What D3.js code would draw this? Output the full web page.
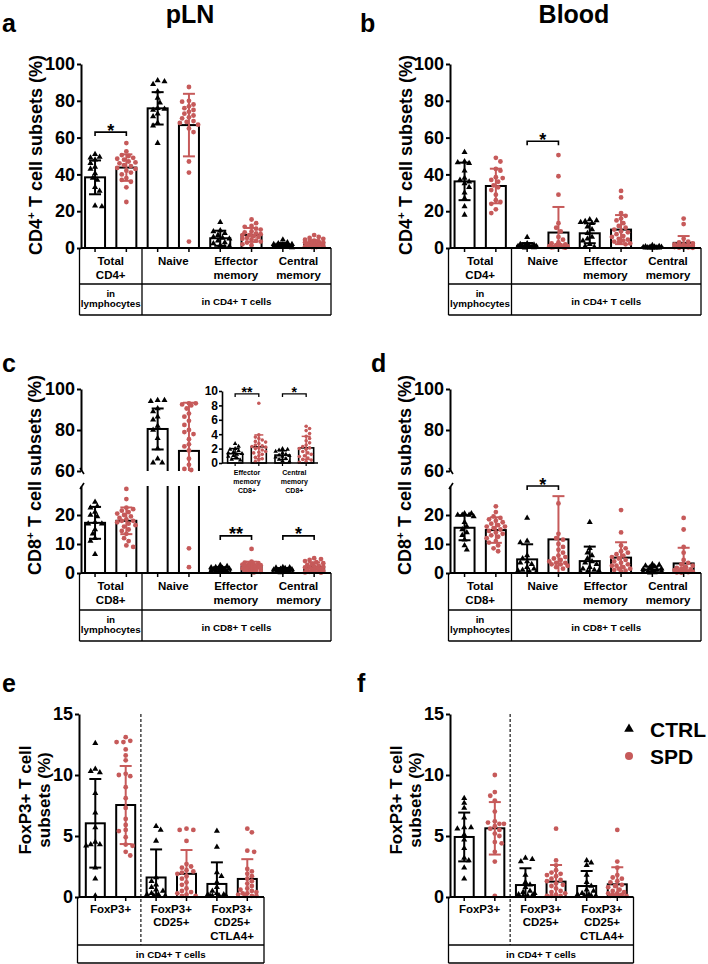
<!DOCTYPE html>
<html><head><meta charset="utf-8">
<script src="https://cdn.jsdelivr.net/npm/d3@7/dist/d3.min.js"></script>
<style>body{margin:0;background:#fff}svg{display:block}</style>
</head><body>
<svg id="fig" width="708" height="964"></svg>
<script>
// ---------------- DATA ----------------
const groups = ["CTRL", "SPD"];
const cd4Cats = [["Total", "CD4+"], ["Naive"], ["Effector", "memory"], ["Central", "memory"]];
const cd8Cats = [["Total", "CD8+"], ["Naive"], ["Effector", "memory"], ["Central", "memory"]];
const tregCats = [["FoxP3+"], ["FoxP3+", "CD25+"], ["FoxP3+", "CD25+", "CTLA4+"]];
const insetCats = [["Effector", "memory", "CD8+"], ["Central", "memory", "CD8+"]];
const ticks100 = [0, 20, 40, 60, 80, 100];
const ticksLow = [0, 10, 20];
const ticksHigh = [60, 80, 100];
const ticks15 = [0, 5, 10, 15];
const ticksInset = [0, 2, 4, 6, 8, 10];

// panel a: pLN CD4
const pLN_CD4_ctrl = [
  [51, 49.5, 49, 48, 46, 44, 43, 40.5, 38, 37, 33, 31, 23, 22.5],
  [91, 90.5, 89, 85, 81.5, 79, 76, 75.5, 75, 73, 71.5, 68, 66.5, 57],
  [14, 9.5, 9, 8, 7, 6, 5.5, 5, 4, 3, 2.5, 1.5, 1, 0.5],
  [4.5, 3, 2.5, 2, 2, 1.8, 1.5, 1.2, 1, 1, 0.8, 0.5, 0.5, 0.3]];
const pLN_CD4_spd = [
  [57, 52.5, 50.5, 50, 49, 48.5, 48, 47, 46.5, 46, 45, 44.5, 43.5, 43, 42, 41, 40, 38, 37, 36, 33, 25],
  [87.5, 80, 79.5, 78, 77, 76, 75, 74, 73, 72, 71, 70.5, 69, 68.5, 68, 67, 65, 63, 47, 41, 3.5],
  [15.5, 13.5, 12, 11.5, 10.5, 10, 9, 8.5, 8, 7.5, 7, 7, 6.5, 6, 5.5, 5, 4.5, 4, 3.5, 3, 2, 1.5],
  [7, 6, 5.5, 5, 4.5, 4, 3.5, 3.5, 3, 3, 2.5, 2.5, 2, 2, 1.5, 1.5, 1, 1, 0.8, 0.5, 0.5]];
const pLN_CD4_ctrlMean = [38.4, 75.9, 5.3, 1.6];
const pLN_CD4_ctrlSd = [9.2, 8.8, 4.1, 1.1];
const pLN_CD4_spdMean = [43.7, 66.8, 7.1, 2.6];
const pLN_CD4_spdSd = [7.2, 17.0, 3.8, 1.7];
const pLN_CD4_sig = [{cat: 0, v: 63, label: "*"}];

// panel b: Blood CD4
const blood_CD4_ctrl = [
  [52, 47, 46.5, 46, 42, 38, 37, 36, 35, 33, 30, 27, 22.5, 18],
  [5.8, 2.5, 2, 1.8, 1.5, 1.2, 1, 1, 0.8, 0.6, 0.5, 0.4, 0.3, 0.2],
  [15.5, 15, 14.5, 14, 13.5, 11.5, 10, 8, 6, 5, 4, 2, 1, 0.5],
  [1.5, 1, 0.8, 0.7, 0.6, 0.5, 0.4, 0.3, 0.3, 0.2, 0.2, 0.1, 0.1, 0.1]];
const blood_CD4_spd = [
  [49, 47, 43, 42, 38.5, 38, 37, 36, 34, 33, 31.5, 29, 26, 25, 24, 21, 19],
  [50.5, 39, 29, 13.5, 11, 9, 6, 4.5, 3, 2.5, 2, 1.5, 1.5, 1, 1, 0.8, 0.5, 0.5, 0.3, 0.2],
  [31, 27.5, 19, 17.5, 16, 15, 13.5, 12, 11, 10, 9, 8.5, 7.5, 6.5, 6, 5, 4.5, 4, 3.5, 3, 2.5, 2],
  [16, 13, 5, 3.5, 3, 2.5, 2, 2, 1.5, 1.5, 1.2, 1, 1, 0.8, 0.6, 0.5, 0.4, 0.3, 0.2, 0.1]];
const blood_CD4_ctrlMean = [36.2, 1.2, 8.0, 0.4];
const blood_CD4_ctrlSd = [10.2, 1.5, 5.4, 0.4];
const blood_CD4_spdMean = [33.7, 8.4, 10.0, 2.8];
const blood_CD4_spdSd = [9.4, 13.9, 7.9, 3.7];
const blood_CD4_sig = [{cat: 1, v: 58, label: "*"}];

// panel c: pLN CD8
const pLN_CD8_ctrl = [
  [24.5, 23, 22.5, 21, 20, 19.5, 17.5, 17, 17, 15, 13.5, 12, 11, 6.5],
  [94.5, 94.5, 94, 90.5, 89, 86.5, 85, 82, 80, 76, 71, 66, 64, 64],
  [2.7, 2.3, 2, 1.9, 1.7, 1.5, 1.4, 1.3, 1.2, 1, 0.9, 0.7, 0.5, 0.4],
  [2, 1.9, 1.8, 1.6, 1.4, 1.2, 1.1, 1, 0.9, 0.8, 0.6, 0.5, 0.3, 0.2]];
const pLN_CD8_spd = [
  [29, 25.5, 22.5, 22, 21.5, 21, 20.5, 20, 19.5, 19, 18.5, 18, 18, 17.5, 17, 16.5, 16, 15, 14.5, 13.5, 12, 11, 9.5, 9],
  [93, 93, 92.5, 92, 90.5, 88, 86.5, 84.5, 82.5, 80, 79, 78, 75.5, 73, 72, 70, 66, 63, 61, 60.5, 8.5, 2],
  [8.3, 3.9, 3.6, 3.4, 3.2, 3, 2.9, 2.7, 2.5, 2.4, 2.3, 2.2, 2.1, 2, 1.8, 1.6, 1.5, 1.4, 1.2, 1, 0.8, 0.6, 0.4, 0.2],
  [5.1, 4.8, 4.5, 4.1, 3.7, 3.4, 3.1, 2.8, 2.5, 2.3, 2.1, 2, 1.9, 1.6, 1.4, 1.2, 1, 0.9, 0.7, 0.5, 0.4, 0.2, 0.1]];
const pLN_CD8_ctrlMean = [17.3, 80.5, 1.3, 1.1];
const pLN_CD8_ctrlSd = [5.5, 10.0, 0.7, 0.6];
const pLN_CD8_spdMean = [18.0, 69.8, 2.25, 2.1];
const pLN_CD8_spdSd = [4.6, 23.5, 1.65, 1.6];
const pLN_CD8_sig = [{cat: 2, v: 12.8, label: "**"}, {cat: 3, v: 12.8, label: "*"}];
const inset_sig = [{cat: 0, v: 9.6, label: "**"}, {cat: 1, v: 9.6, label: "*"}];

// panel d: Blood CD8
const blood_CD8_ctrl = [
  [20.5, 20.5, 20, 20, 20, 19.5, 17.5, 16, 15, 14, 13, 11.5, 9.5, 8],
  [19, 11, 10.5, 6, 5, 4, 3.5, 3, 2, 1.5, 1, 0.8, 0.5, 0.3],
  [17.5, 8.5, 7, 6, 5, 4, 3.5, 3, 2, 1.5, 1, 0.8, 0.5, 0.3],
  [3, 2.8, 2.5, 2.2, 2, 1.5, 1.3, 1, 0.8, 0.6, 0.5, 0.3, 0.2, 0.1]];
const blood_CD8_spd = [
  [23, 21, 19.5, 19, 18.5, 18, 17.5, 17, 16.5, 16, 16, 15.5, 15, 14.5, 14, 13.5, 13, 12.5, 12, 11, 10.5, 9.5, 8.5, 7.5],
  [24, 13.5, 12, 11.5, 10, 9, 8, 7, 6, 5.5, 5, 4.5, 4, 3.5, 3.5, 3, 3, 2.5, 2, 1.5],
  [21.7, 14, 9.5, 8.5, 7.5, 7, 6.5, 6, 5.5, 5, 4.5, 4, 3.5, 3, 2.5, 2.5, 2, 1.5, 1.5, 1, 0.8, 0.5],
  [19, 15, 9, 7, 4.5, 3.5, 3, 2.5, 2, 1.8, 1.5, 1.2, 1, 0.8, 0.6, 0.5, 0.4, 0.3, 0.2, 0.1]];
const blood_CD8_ctrlMean = [15.6, 4.7, 4.1, 1.2];
const blood_CD8_ctrlSd = [4.3, 5.2, 5.0, 1.0];
const blood_CD8_spdMean = [14.8, 11.6, 5.3, 3.3];
const blood_CD8_spdSd = [4.4, 14.9, 5.3, 5.4];
const blood_CD8_sig = [{cat: 1, v: 30, label: "*"}];

// panel e: pLN FoxP3
const pLN_Treg_ctrl = [
  [12.6, 10.5, 10.3, 10.2, 8.5, 6.9, 5.7, 4.5, 4.3, 4.2, 4.3, 2.4, 1.5, 0.1],
  [5.8, 5.5, 4.6, 1.6, 1.3, 1, 0.8, 0.6, 0.5, 0.3, 0.2, 0.2, 0.1, 0.1],
  [5.4, 4.1, 2, 1.7, 1.2, 0.8, 0.5, 0.3, 0.2, 0.2, 0.1, 0.1, 0.1, 0.1]];
const pLN_Treg_spd = [
  [13.1, 12.8, 12.7, 12.7, 12.1, 11.6, 11.2, 10.1, 10, 9.9, 9, 8.1, 7.3, 6.4, 5.9, 5.4, 5.5, 4.9, 4.2, 4.3, 3.7, 3.4],
  [5.6, 5.5, 5.5, 4.6, 2.7, 2.5, 2.4, 2.2, 2.1, 2, 1.9, 1.7, 1.5, 1.2, 1, 0.7, 0.5, 0.4, 0.3, 0.2, 0.1, 0.1],
  [5.6, 5.3, 3.8, 3.7, 2.3, 2.1, 1.9, 1.7, 1.5, 1.3, 1.1, 0.9, 0.7, 0.6, 0.5, 0.4, 0.3, 0.3, 0.2, 0.1, 0.1, 0.1]];
const pLN_Treg_ctrlMean = [6.04, 1.6, 1.07];
const pLN_Treg_ctrlSd = [3.63, 2.3, 1.77];
const pLN_Treg_spdMean = [7.54, 1.9, 1.48];
const pLN_Treg_spdSd = [3.2, 1.95, 1.62];

// panel f: Blood FoxP3
const blood_Treg_ctrl = [
  [8.1, 7.7, 7.3, 6.5, 5.7, 5.7, 5.6, 5.1, 4.7, 4, 3.2, 3, 2.4, 1.5],
  [3.2, 3.1, 2.9, 1.8, 1.2, 1, 0.8, 0.5, 0.4, 0.3, 0.2, 0.1, 0.1, 0.1],
  [3, 2.8, 2.6, 1.8, 1.2, 0.9, 0.6, 0.5, 0.3, 0.2, 0.2, 0.1, 0.1, 0.1]];
const blood_Treg_spd = [
  [10, 8.6, 8.3, 7.9, 7, 6.2, 6.1, 6, 6, 5.8, 5.6, 5.5, 5.2, 5, 4.5, 4.4, 3.7, 2.9, 0.1],
  [5.6, 3, 2.6, 2.2, 2, 1.9, 1.8, 1.7, 1.5, 1.4, 1.3, 1.1, 1, 0.9, 0.7, 0.5, 0.4, 0.3, 0.2, 0.1, 0.1, 0.1],
  [5.5, 2.9, 2.4, 1.8, 1.6, 1.5, 1.3, 1.2, 1, 0.9, 0.8, 0.6, 0.5, 0.4, 0.3, 0.3, 0.2, 0.2, 0.1, 0.1, 0.1, 0.1]];
const blood_Treg_ctrlMean = [4.92, 0.98, 0.9];
const blood_Treg_ctrlSd = [2.0, 1.37, 1.23];
const blood_Treg_spdMean = [5.63, 1.26, 1.04];
const blood_Treg_spdSd = [2.15, 1.36, 1.39];

// ---------------- DRAWING ----------------
const RED = "#c65a5a";
const FONT = '"Liberation Sans", Arial, Helvetica, sans-serif';
const svg = d3.select("#fig").attr("font-family", FONT);
let clipId = 0;

function txt(g, x, y, s, size, o = {}) {
  return g.append("text").attr("x", x).attr("y", y).text(s)
    .attr("font-size", size).attr("font-weight", o.weight || "bold")
    .attr("text-anchor", o.anchor || "middle").attr("fill", o.fill || "#000");
}

function swarm(ys, r, step, maxOff) {
  const order = d3.range(ys.length).sort((a, b) => ys[a] - ys[b]);
  const placed = [], off = [];
  order.forEach((i, n) => {
    const cands = [0];
    for (let k = 1; k * step <= maxOff + 1e-6; k++) {
      if (n % 2) cands.push(k * step, -k * step); else cands.push(-k * step, k * step);
    }
    let best = 0, bestD = -1;
    for (const c of cands) {
      let md = Infinity;
      for (const p of placed) { const d = Math.hypot(p[0] - c, p[1] - ys[i]); if (d < md) md = d; }
      if (md >= 2 * r) { best = c; break; }
      if (md > bestD) { bestD = md; best = c; }
    }
    off[i] = best; placed.push([best, ys[i]]);
  });
  return off;
}

function barChart(P) {
  const g = svg.append("g");
  const nC = P.ctrl.length;
  const xCat = d3.scaleBand().domain(d3.range(nC)).range([P.catStart, P.catEnd]);
  const xGrp = d3.scaleBand().domain(groups).range([0, xCat.bandwidth()]);
  const cx = (ci, gi) => xCat(ci) + xGrp(groups[gi]) + xGrp.bandwidth() / 2;
  const scales = P.segs.map(s => d3.scaleLinear().domain(s.dom).range(s.rng));
  const yAx = P.segs[0].rng[0];
  const series = [
    {pts: P.ctrl, mean: P.ctrlMean, sd: P.ctrlSd, color: "#000", tri: true},
    {pts: P.spd, mean: P.spdMean, sd: P.spdSd, color: RED, tri: false}];
  const clips = P.segs.map((s, si) => {
    const id = "clip" + (clipId++);
    const t = si === P.segs.length - 1 ? s.rng[1] - 40 : s.rng[1];
    const b = si === 0 ? s.rng[0] + 4 : s.rng[0];
    svg.append("clipPath").attr("id", id).append("rect")
      .attr("x", P.axisX - 40).attr("y", t).attr("width", P.xEnd - P.axisX + 60).attr("height", b - t);
    return id;
  });
  // bars
  P.segs.forEach((s, si) => {
    const y = scales[si];
    const cg = g.append("g").attr("clip-path", `url(#${clips[si]})`);
    series.forEach((ser, gi) => d3.range(nC).forEach(ci => {
      const m = ser.mean[ci];
      cg.append("rect").attr("x", cx(ci, gi) - P.barW / 2).attr("y", y(m))
        .attr("width", P.barW).attr("height", y(0) - y(m))
        .attr("fill", "#fff").attr("stroke", "#000").attr("stroke-width", P.axisW);
    }));
  });
  // points
  series.forEach((ser, gi) => d3.range(nC).forEach(ci => {
    const vals = ser.pts[ci];
    const segIdx = vals.map(v => {
      let k = P.segs.findIndex(s => v >= s.dom[0] && v <= s.dom[1]);
      if (k < 0) k = P.segs.length - 1;
      return k;
    });
    const ys = vals.map((v, i) => scales[segIdx[i]](v));
    const offs = swarm(ys, P.r, P.r * 0.95, P.maxOff);
    const x0 = cx(ci, gi);
    vals.forEach((v, i) => {
      if (ser.tri) {
        g.append("path").attr("d", d3.symbol(d3.symbolTriangle, P.tri)())
          .attr("transform", `translate(${x0 + offs[i]},${ys[i]})`).attr("fill", ser.color);
      } else {
        g.append("circle").attr("cx", x0 + offs[i]).attr("cy", ys[i]).attr("r", P.r).attr("fill", ser.color);
      }
    });
  }));
  // error bars
  P.segs.forEach((s, si) => {
    const y = scales[si];
    const cg = g.append("g").attr("clip-path", `url(#${clips[si]})`)
      .attr("stroke-width", P.errW).attr("fill", "none");
    series.forEach((ser, gi) => d3.range(nC).forEach(ci => {
      const m = ser.mean[ci], sd = ser.sd[ci], x0 = cx(ci, gi);
      const lo = Math.max(0, m - sd), hi = m + sd;
      cg.append("line").attr("x1", x0).attr("x2", x0).attr("y1", y(lo)).attr("y2", y(hi)).attr("stroke", ser.color);
      cg.append("line").attr("x1", x0 - P.cap / 2).attr("x2", x0 + P.cap / 2).attr("y1", y(hi)).attr("y2", y(hi)).attr("stroke", ser.color);
      if (m - sd > 0)
        cg.append("line").attr("x1", x0 - P.cap / 2).attr("x2", x0 + P.cap / 2).attr("y1", y(lo)).attr("y2", y(lo)).attr("stroke", ser.color);
    }));
  });
  // x axis + ticks
  g.append("line").attr("x1", P.axisX).attr("x2", P.xEnd).attr("y1", yAx).attr("y2", yAx)
    .attr("stroke", "#000").attr("stroke-width", P.axisW);
  d3.range(nC).forEach(ci => groups.forEach((gr, gi) => {
    g.append("line").attr("x1", cx(ci, gi)).attr("x2", cx(ci, gi)).attr("y1", yAx).attr("y2", yAx + P.xTick)
      .attr("stroke", "#000").attr("stroke-width", P.axisW * 0.75);
  }));
  // y axes
  P.segs.forEach((s, si) => {
    const ax = g.append("g").attr("transform", `translate(${P.axisX},0)`)
      .call(d3.axisLeft(scales[si]).tickValues(s.ticks).tickFormat(d3.format("d"))
        .tickSize(P.yTick).tickPadding(P.tickPad).tickSizeOuter(0));
    ax.attr("font-family", FONT);
    ax.select(".domain").attr("stroke-width", P.axisW);
    ax.selectAll(".tick line").attr("stroke-width", P.axisW);
    ax.selectAll(".tick text").attr("font-size", P.tickFont).attr("font-weight", "bold").attr("fill", "#000");
  });
  // break marks
  if (P.segs.length > 1) {
    const yb = P.segs[0].rng[1], yt = P.segs[1].rng[0];
    g.append("line").attr("x1", P.axisX - 1).attr("y1", yt - 3).attr("x2", P.axisX + 3).attr("y2", yt + 3)
      .attr("stroke", "#000").attr("stroke-width", 1.6);
    g.append("line").attr("x1", P.axisX - 1).attr("y1", yb + 3).attr("x2", P.axisX + 3).attr("y2", yb - 3)
      .attr("stroke", "#000").attr("stroke-width", 1.6);
  }
  // significance
  (P.sig || []).forEach(sg => {
    const y = scales[0](sg.v), xa = cx(sg.cat, 0), xb = cx(sg.cat, 1);
    g.append("path").attr("d", `M${xa},${y + P.sigTick}V${y}H${xb}V${y + P.sigTick}`)
      .attr("fill", "none").attr("stroke", "#000").attr("stroke-width", P.sigW);
    txt(g, (xa + xb) / 2, y + P.starDy, sg.label, P.starFont);
  });
  // category labels
  if (P.catLabel) {
    P.cats.forEach((lines, ci) => lines.forEach((ln, li) => {
      txt(g, xCat(ci) + xCat.bandwidth() / 2, yAx + P.catLabel.dy0 + li * P.catLabel.lh, ln, P.catLabel.size);
    }));
  }
  // table
  if (P.table) {
    const T = P.table, tx0 = P.axisX - 1.5, tx1 = P.xEnd;
    const st = (sel) => sel.attr("stroke", "#000").attr("stroke-width", 1.3);
    st(g.append("line").attr("x1", tx0).attr("x2", tx0).attr("y1", yAx).attr("y2", T.yBot));
    st(g.append("line").attr("x1", tx1).attr("x2", tx1).attr("y1", yAx).attr("y2", T.yBot));
    st(g.append("line").attr("x1", tx0).attr("x2", tx1).attr("y1", T.yRow).attr("y2", T.yRow));
    st(g.append("line").attr("x1", tx0).attr("x2", tx1).attr("y1", T.yBot).attr("y2", T.yBot));
    const xd = xCat(1);
    if (T.dashed) {
      g.append("line").attr("x1", xd).attr("x2", xd).attr("y1", scales[0].range()[1]).attr("y2", T.yRow)
        .attr("stroke", "#000").attr("stroke-width", 1.1).attr("stroke-dasharray", "3,2");
    } else {
      st(g.append("line").attr("x1", xd).attr("x2", xd).attr("y1", yAx).attr("y2", T.yBot));
    }
    T.row2.forEach(cell => {
      const xc = cell.span === "first" ? (tx0 + xd) / 2 : cell.span === "rest" ? (xd + tx1) / 2 : (tx0 + tx1) / 2;
      cell.lines.forEach((ln, li) => txt(g, xc, T.yRow + cell.dy0 + li * 10.5, ln, T.font2));
    });
  }
  return g;
}

function yLabel(x, y, main, sup, rest, size) {
  const t = svg.append("text").attr("transform", `translate(${x},${y}) rotate(-90)`)
    .attr("text-anchor", "middle").attr("font-size", size).attr("font-weight", "bold");
  t.append("tspan").text(main);
  if (sup) {
    t.append("tspan").text(sup).attr("font-size", size * 0.65).attr("dy", -size * 0.4);
    t.append("tspan").text(rest).attr("dy", size * 0.4);
  }
  return t;
}

const common = {axisW: 2, errW: 2, barW: 20, r: 2.4, tri: 16, cap: 12, maxOff: 9.5, xTick: 4, yTick: 4,
  tickPad: 2, tickFont: 18, sigTick: 4, sigW: 1.6, starDy: 4.5, starFont: 18,
  catLabel: {dy0: 17, lh: 14, size: 11.5}};

const segs100 = [{dom: [0, 100], rng: [248, 64], ticks: ticks100}];
const segsBroken = [{dom: [0, 30], rng: [573, 486], ticks: ticksLow}, {dom: [60, 100], rng: [471, 389], ticks: ticksHigh}];
const segs15 = [{dom: [0, 15], rng: [897, 714], ticks: ticks15}];

// a
barChart(Object.assign({}, common, {axisX: 81, catStart: 79.4, catEnd: 329.8, xEnd: 331, segs: segs100, cats: cd4Cats,
  ctrl: pLN_CD4_ctrl, spd: pLN_CD4_spd, ctrlMean: pLN_CD4_ctrlMean, ctrlSd: pLN_CD4_ctrlSd,
  spdMean: pLN_CD4_spdMean, spdSd: pLN_CD4_spdSd, sig: pLN_CD4_sig,
  table: {yRow: 284, yBot: 315, font2: 9.8, row2: [{span: "first", lines: ["in", "lymphocytes"], dy0: 12.5}, {span: "rest", lines: ["in CD4+ T cells"], dy0: 21}]}}));
// b
barChart(Object.assign({}, common, {axisX: 450, catStart: 448.9, catEnd: 699.3, xEnd: 701, segs: segs100, cats: cd4Cats,
  ctrl: blood_CD4_ctrl, spd: blood_CD4_spd, ctrlMean: blood_CD4_ctrlMean, ctrlSd: blood_CD4_ctrlSd,
  spdMean: blood_CD4_spdMean, spdSd: blood_CD4_spdSd, sig: blood_CD4_sig,
  table: {yRow: 284, yBot: 315, font2: 9.8, row2: [{span: "first", lines: ["in", "lymphocytes"], dy0: 12.5}, {span: "rest", lines: ["in CD4+ T cells"], dy0: 21}]}}));
// c
barChart(Object.assign({}, common, {axisX: 81, catStart: 79.4, catEnd: 329.8, xEnd: 331, segs: segsBroken, cats: cd8Cats,
  ctrl: pLN_CD8_ctrl, spd: pLN_CD8_spd, ctrlMean: pLN_CD8_ctrlMean, ctrlSd: pLN_CD8_ctrlSd,
  spdMean: pLN_CD8_spdMean, spdSd: pLN_CD8_spdSd, sig: pLN_CD8_sig,
  table: {yRow: 610, yBot: 641, font2: 9.8, row2: [{span: "first", lines: ["in", "lymphocytes"], dy0: 12.5}, {span: "rest", lines: ["in CD8+ T cells"], dy0: 21}]}}));
// c inset
barChart(Object.assign({}, common, {axisX: 222, catStart: 223.3, catEnd: 318, xEnd: 318,
  segs: [{dom: [0, 10], rng: [463, 391], ticks: ticksInset}], cats: insetCats,
  ctrl: pLN_CD8_ctrl.slice(2), spd: pLN_CD8_spd.slice(2), ctrlMean: pLN_CD8_ctrlMean.slice(2), ctrlSd: pLN_CD8_ctrlSd.slice(2),
  spdMean: pLN_CD8_spdMean.slice(2), spdSd: pLN_CD8_spdSd.slice(2), sig: inset_sig,
  axisW: 1.6, errW: 1.5, barW: 15, r: 1.8, tri: 9, cap: 9, maxOff: 7, xTick: 3, yTick: 3, tickPad: 1, tickFont: 12,
  sigTick: 3, sigW: 1.3, starDy: 3, starFont: 14, catLabel: {dy0: 11.5, lh: 9, size: 7}}));
// d
barChart(Object.assign({}, common, {axisX: 450, catStart: 448.9, catEnd: 699.3, xEnd: 701, segs: segsBroken, cats: cd8Cats,
  ctrl: blood_CD8_ctrl, spd: blood_CD8_spd, ctrlMean: blood_CD8_ctrlMean, ctrlSd: blood_CD8_ctrlSd,
  spdMean: blood_CD8_spdMean, spdSd: blood_CD8_spdSd, sig: blood_CD8_sig,
  table: {yRow: 610, yBot: 641, font2: 9.8, row2: [{span: "first", lines: ["in", "lymphocytes"], dy0: 12.5}, {span: "rest", lines: ["in CD8+ T cells"], dy0: 21}]}}));
// e
barChart(Object.assign({}, common, {axisX: 79, catStart: 80.1, catEnd: 262.5, xEnd: 264, segs: segs15, cats: tregCats,
  ctrl: pLN_Treg_ctrl, spd: pLN_Treg_spd, ctrlMean: pLN_Treg_ctrlMean, ctrlSd: pLN_Treg_ctrlSd,
  spdMean: pLN_Treg_spdMean, spdSd: pLN_Treg_spdSd, barW: 19, catLabel: {dy0: 15.5, lh: 13.7, size: 11.5},
  table: {yRow: 945, yBot: 963, dashed: true, font2: 9.8, row2: [{span: "all", lines: ["in CD4+ T cells"], dy0: 12.5}]}}));
// f
barChart(Object.assign({}, common, {axisX: 450, catStart: 448.9, catEnd: 632.6, xEnd: 633.5, segs: segs15, cats: tregCats,
  ctrl: blood_Treg_ctrl, spd: blood_Treg_spd, ctrlMean: blood_Treg_ctrlMean, ctrlSd: blood_Treg_ctrlSd,
  spdMean: blood_Treg_spdMean, spdSd: blood_Treg_spdSd, barW: 19, catLabel: {dy0: 15.5, lh: 13.7, size: 11.5},
  table: {yRow: 945, yBot: 963, dashed: true, font2: 9.8, row2: [{span: "all", lines: ["in CD4+ T cells"], dy0: 12.5}]}}));

// titles & panel letters
const hdr = svg.append("g");
txt(hdr, 190, 23, "pLN", 25);
txt(hdr, 574, 23, "Blood", 25);
[["a", 2, 32], ["b", 360, 32], ["c", 2, 372], ["d", 371, 372], ["e", 2, 692], ["f", 357, 692]]
  .forEach(([s, x, y]) => txt(hdr, x, y, s, 25, {anchor: "start"}));

// y labels
yLabel(42, 155, "CD4", "+", " T cell subsets (%)", 18);
yLabel(412, 155, "CD4", "+", " T cell subsets (%)", 18);
yLabel(41, 475, "CD8", "+", " T cell subsets (%)", 18);
yLabel(411, 475, "CD8", "+", " T cell subsets (%)", 18);
yLabel(31, 800, "FoxP3+ T cell", null, null, 17);
yLabel(50, 800, "subsets (%)", null, null, 17);
yLabel(402, 800, "FoxP3+ T cell", null, null, 17);
yLabel(421, 800, "subsets (%)", null, null, 17);

// legend
const lg = svg.append("g");
lg.append("path").attr("d", d3.symbol(d3.symbolTriangle, 40)()).attr("transform", "translate(629,729)").attr("fill", "#000");
lg.append("circle").attr("cx", 629).attr("cy", 756).attr("r", 4).attr("fill", RED);
txt(lg, 650, 737, groups[0], 21, {anchor: "start"});
txt(lg, 650, 764, groups[1], 21, {anchor: "start"});
</script>
</body></html>
